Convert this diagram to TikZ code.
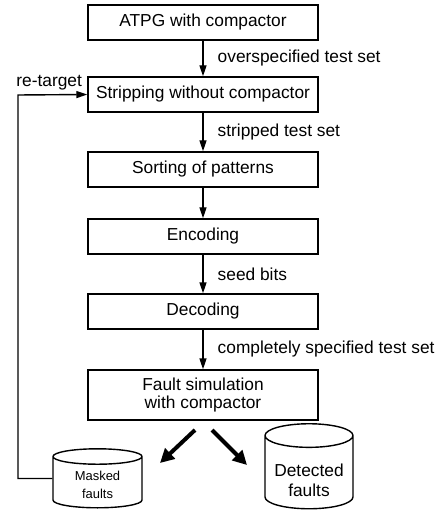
\documentclass[tikz,border=0pt]{standalone}
\usepackage{fontspec}
\setmainfont{Liberation Sans}
\usetikzlibrary{arrows.meta,shapes.geometric}

\newcommand{\dbtext}[2]{\raisebox{#1}[0pt][0pt]{\begin{tabular}{@{}c@{}}#2\end{tabular}}}

\tikzset{fsbox/.style={draw,line width=0.7bp,minimum width=115bp,minimum height=17.5bp,
                       inner sep=0pt,align=center,font=\fontsize{8.7}{9}\selectfont},
         fslab/.style={right=7bp,inner sep=0pt,font=\fontsize{8.7}{9}\selectfont},
         fsdb/.style={cylinder,shape border rotate=90,draw,line width=0.7bp,aspect=0.34,
                      inner sep=0pt},
         fsarr/.style={line width=0.7bp,-{Triangle[length=5.5bp,width=3.5bp]}},
         fsbig/.style={line width=2bp,-{Triangle[length=7bp,width=7bp]}}}

\begin{document}
\begin{tikzpicture}[x=0.5bp,y=-0.5bp]
  \useasboundingbox (0,0) rectangle (444,516);
  % flow of the compression steps
  \foreach \y/\n/\t in {22.5/atpg/ATPG with compactor,94.5/strip/Stripping without compactor,
                        169.5/sort/Sorting of patterns,236.5/enc/Encoding,311.5/dec/Decoding}
     {\node[fsbox] (\n) at (203,\y) {\t};}
  \node[fsbox,minimum height=25bp] (fsim) at (203,395) {Fault simulation\\with compactor};
  \draw[fsarr] (atpg)--(strip) node[midway,fslab] {overspecified test set};
  \draw[fsarr] (strip)--(sort) node[midway,fslab] {stripped test set};
  \draw[fsarr] (sort)--(enc);
  \draw[fsarr] (enc)--(dec) node[midway,fslab] {seed bits};
  \draw[fsarr] (dec)--(fsim) node[midway,fslab] {completely specified test set};
  % fault lists
  \node[fsdb,minimum width=44.5bp,minimum height=29.5bp,font=\fontsize{6.5}{9}\selectfont]
     (masked) at (97.5,482.5) {\dbtext{-3.2bp}{Masked\\faults}};
  \node[fsdb,minimum width=44bp,minimum height=42.5bp,font=\fontsize{8.7}{10}\selectfont]
     (det) at (309,472.5) {\dbtext{-7.2bp}{Detected\\faults}};
  \coordinate (ml) at (195,430); \coordinate (mr) at (160,463);
  \coordinate (dl) at (212,430); \coordinate (dr) at (247,465);
  \draw[fsbig] (ml)--(mr); \draw[fsbig] (dl)--(dr);
  % re-target loop
  \coordinate (bend) at (18,95);
  \draw[fsarr] ([yshift=2bp]masked.west) -| (bend) -- (strip.west);
  \node[anchor=south west,inner sep=0pt,font=\fontsize{8.7}{9}\selectfont] (rt) at (16,91) {re-target};
\end{tikzpicture}
\end{document}
